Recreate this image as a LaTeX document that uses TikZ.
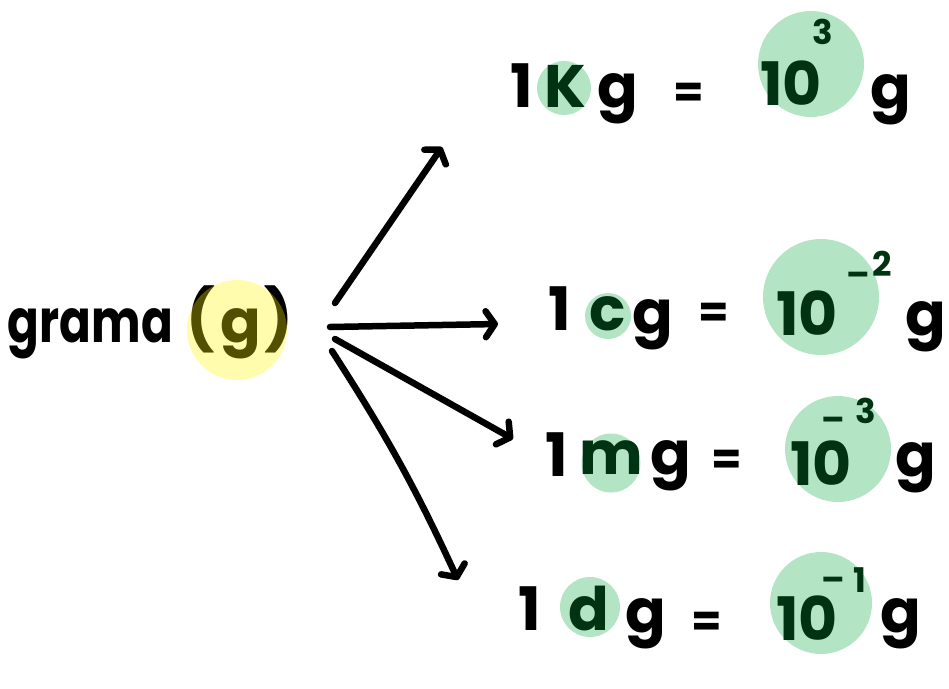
\documentclass[tikz,border=0pt]{standalone}
\usepackage{fontspec}
\setmainfont{Poppins}
\usetikzlibrary{arrows.meta}
\definecolor{hlgreen}{RGB}{179,229,196}
\definecolor{dkgreen}{RGB}{0,51,17}
\definecolor{hlyellow}{RGB}{255,246,0}
\tikzset{
  txt/.style={font=\bfseries\fontsize{60}{60}\selectfont, inner sep=0pt, outer sep=0pt, text=black},
  gtxt/.style={txt, text=dkgreen},
  eqtxt/.style={font=\bfseries\fontsize{44}{44}\selectfont, inner sep=0pt, outer sep=0pt, text=black},
  suptxt/.style={font=\bfseries\fontsize{34}{34}\selectfont, inner sep=0pt, outer sep=0pt, text=dkgreen},
  gdisc/.style={circle, fill=hlgreen, inner sep=0pt, minimum size=#1},
  ydisc/.style={circle, fill=hlyellow, fill opacity=0.32, inner sep=0pt, minimum size=#1},
  arr/.style={line width=6.5pt, line cap=round, -{Straight Barb[length=9pt,width=26pt,round]}},
}
\begin{document}
\begin{tikzpicture}[x=1pt,y=-1pt]
\useasboundingbox (0,0) rectangle (949,688);

% ---- left label ----
\node[txt, anchor=base west] (grama) at (8,342) {\scalebox{0.78}[1]{grama}};
\node[txt, anchor=base west] (lpar) at (186,340) {(};
\node[txt, anchor=base west] (gg) at (220,342) {g};
\node[txt, anchor=base west] (rpar) at (264,340) {)};
\node[ydisc=100pt] (yl) at (237,330) {};

% ---- green discs ----
\node[gdisc=54pt] (d1s) at (564,88) {};
\node[gdisc=106pt] (d1b) at (811,64) {};
\node[gdisc=46pt] (d2s) at (608,316) {};
\node[gdisc=116pt] (d2b) at (821,297) {};
\node[gdisc=59pt] (d3s) at (611,463) {};
\node[gdisc=106pt] (d3b) at (838,449) {};
\node[gdisc=60pt] (d4s) at (590,607) {};
\node[gdisc=102pt] (d4b) at (821,603) {};

% ---- row 1 ----
\node[txt, anchor=base west] (r1one) at (510,107) {1};
\node[gtxt, anchor=base] (r1k) at (565,107) {K};
\node[txt, anchor=base west] (r1g) at (597,107) {g};
\node[eqtxt] (r1eq) at (689,95) {=};
\node[gtxt, anchor=base west] (r1ten) at (760,105) {10};
\node[suptxt] (r1e) at (823,32) {3};
\node[txt, anchor=base west] (r1g2) at (870,108) {g};

% ---- row 2 ----
\node[txt, anchor=base west] (r2one) at (548,330) {1};
\node[gtxt, anchor=base] (r2c) at (608,330) {c};
\node[txt, anchor=base west] (r2g) at (632,333) {g};
\node[eqtxt] (r2eq) at (714,315) {=};
\node[gtxt, anchor=base west] (r2ten) at (776,335) {10};
\node[suptxt] (r2m) at (858,279) {–};
\node[suptxt] (r2e) at (882,264) {2};
\node[txt, anchor=base west] (r2g2) at (905,335) {g};

% ---- row 3 ----
\node[txt, anchor=base west] (r3one) at (545,476) {1};
\node[gtxt, anchor=base] (r3m) at (611,474) {m};
\node[txt, anchor=base west] (r3g) at (650,474) {g};
\node[eqtxt] (r3eq) at (727,462) {=};
\node[gtxt, anchor=base west] (r3ten) at (790,485) {10};
\node[suptxt] (r3mi) at (833,424) {–};
\node[suptxt] (r3e) at (866,411) {3};
\node[txt, anchor=base west] (r3g2) at (895,476) {g};

% ---- row 4 ----
\node[txt, anchor=base west] (r4one) at (518,630) {1};
\node[gtxt, anchor=base] (r4d) at (589,630) {d};
\node[txt, anchor=base west] (r4g) at (625,632) {g};
\node[eqtxt] (r4eq) at (707,624) {=};
\node[gtxt, anchor=base west] (r4ten) at (776,640) {10};
\node[suptxt] (r4mi) at (833,584) {–};
\node[suptxt] (r4e) at (860,580) {1};
\node[txt, anchor=base west] (r4g2) at (880,632) {g};

% ---- arrows ----
\coordinate (s1) at (335,303);
\coordinate (s2) at (330,327);
\coordinate (s3) at (335,339);
\coordinate (s4) at (332,351);
\coordinate (e1) at (442,147);
\coordinate (e2) at (498,324);
\coordinate (e3) at (513,439);
\coordinate (e4) at (458,580);
\draw[arr] (s1) -- (e1);
\draw[arr] (s2) -- (e2);
\draw[arr] (s3) -- (e3);
\draw[arr] (s4) to[bend left=4] (e4);
\end{tikzpicture}
\end{document}
